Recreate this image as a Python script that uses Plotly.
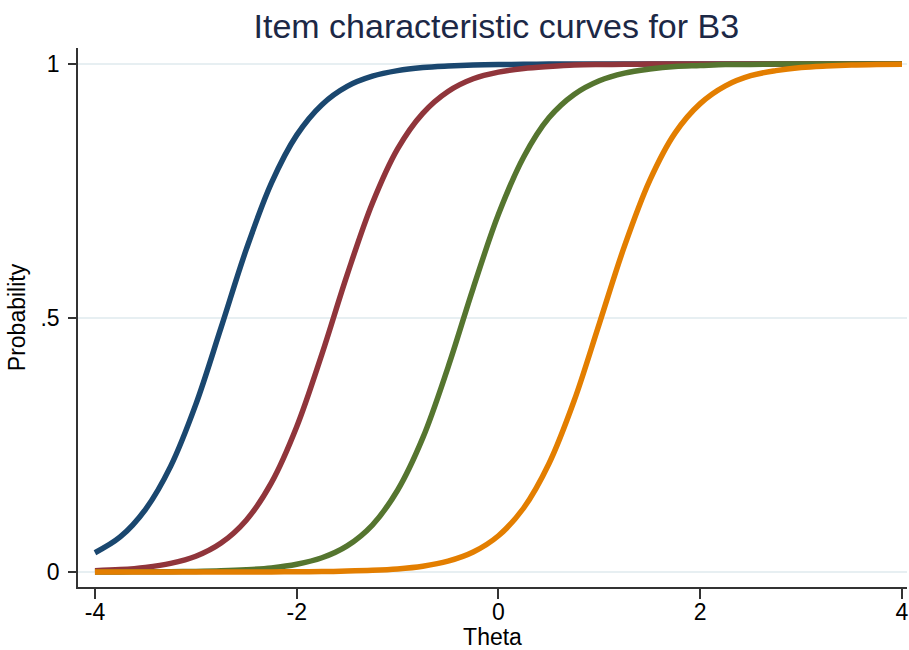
import plotly.graph_objects as go

theta = [-4.0, -3.75, -3.5, -3.25, -3.0, -2.75, -2.5, -2.25, -2.0, -1.75, -1.5, -1.25,
         -1.0, -0.75, -0.5, -0.25, 0.0, 0.25, 0.5, 0.75, 1.0, 1.25, 1.5, 1.75,
         2.0, 2.25, 2.5, 2.75, 3.0, 3.25, 3.5, 3.75, 4.0]

p_blue = [0.038, 0.069, 0.123, 0.208, 0.330, 0.481, 0.635, 0.766, 0.860, 0.920, 0.956, 0.976,
          0.987, 0.993, 0.996, 0.998, 0.999, 0.9994, 1.0, 1.0, 1.0, 1.0, 1.0, 1.0,
          1.0, 1.0, 1.0, 1.0, 1.0, 1.0, 1.0, 1.0, 1.0]
p_red = [0.0026, 0.0048, 0.0091, 0.0169, 0.031, 0.057, 0.102, 0.176, 0.286, 0.429, 0.585, 0.726,
         0.833, 0.903, 0.946, 0.971, 0.984, 0.991, 0.995, 0.998, 0.999, 0.9993, 1.0, 1.0,
         1.0, 1.0, 1.0, 1.0, 1.0, 1.0, 1.0, 1.0, 1.0]
p_green = [0.0001, 0.0002, 0.0004, 0.0007, 0.0012, 0.0023, 0.0044, 0.0081, 0.0152, 0.0281, 0.0515, 0.0925,
           0.161, 0.264, 0.403, 0.559, 0.704, 0.817, 0.894, 0.940, 0.967, 0.982, 0.990, 0.995,
           0.997, 0.999, 0.9992, 1.0, 1.0, 1.0, 1.0, 1.0, 1.0]
p_orange = [0.0, 0.0, 0.0, 0.00002, 0.00004, 0.00008, 0.00014, 0.00026, 0.0005, 0.0009, 0.0018, 0.0033,
            0.0061, 0.0115, 0.0214, 0.0394, 0.0714, 0.126, 0.213, 0.337, 0.489, 0.642, 0.771, 0.864,
            0.922, 0.957, 0.977, 0.987, 0.993, 0.996, 0.998, 0.999, 0.9995]

series = [("Category 1", p_blue, "#1a476f"),
          ("Category 2", p_red, "#90353b"),
          ("Category 3", p_green, "#55752f"),
          ("Category 4", p_orange, "#e37e00")]

y_tickvals = [0, 0.5, 1]
y_ticktext = ["0", ".5", "1"]
x_tickvals = [-4, -2, 0, 2, 4]
x_ticktext = ["-4", "-2", "0", "2", "4"]

fig = go.Figure()
for name, ys, col in series:
    fig.add_trace(go.Scatter(x=theta, y=ys, mode="lines", name=name,
                             line=dict(color=col, width=5.5, shape="spline", smoothing=1.0)))

font_family = "Liberation Sans, Arial, sans-serif"
fig.update_layout(
    width=909, height=650,
    margin=dict(l=78, r=2, t=48, b=63, autoexpand=False),
    paper_bgcolor="white", plot_bgcolor="white",
    showlegend=False,
    font=dict(family=font_family, size=23, color="black"),
    title=dict(text="Item characteristic curves for B3", x=0.546, xanchor="center",
               y=1 - 26 / 650, yanchor="middle", yref="container",
               font=dict(size=34, color="#1c2846", family=font_family)),
    xaxis=dict(range=[-4.168, 4.05], tickvals=x_tickvals, ticktext=x_ticktext,
               showline=True, linecolor="#333333", linewidth=1.5,
               ticks="outside", ticklen=10, tickwidth=1.5, tickcolor="#333333",
               showgrid=False, zeroline=False, automargin=False,
               title=dict(text="Theta", standoff=0, font=dict(size=23)),
               tickfont=dict(size=23), ticklabelstandoff=-6),
    yaxis=dict(range=[-0.0295, 1.0315], tickvals=y_tickvals, ticktext=y_ticktext,
               showline=True, linecolor="#333333", linewidth=1.5,
               ticks="outside", ticklen=8, tickwidth=1.5, tickcolor="#333333",
               showgrid=True, gridcolor="#e7eff2", gridwidth=1.5, zeroline=False,
               automargin=False,
               title=dict(text="Probability", standoff=8, font=dict(size=23)),
               tickfont=dict(size=23), ticklabelstandoff=4),
)

fig.write_html("out.html", config={"displayModeBar": False},
               post_script="document.body.style.margin='0';document.body.style.padding='0';")
